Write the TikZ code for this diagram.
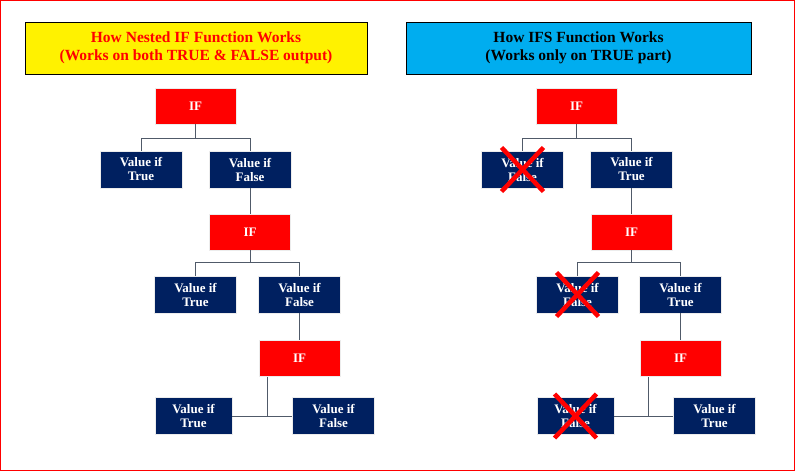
\documentclass[tikz,border=0pt]{standalone}
\usepackage{fontspec}
\setmainfont{Liberation Serif}
\begin{document}
\begin{tikzpicture}[x=1pt,y=-1pt,
  ifbox/.style={draw=white!85!gray,line width=0.6pt,fill=red,text=white,font=\bfseries\fontsize{13}{14}\selectfont,minimum width=81pt,minimum height=36pt},
  valbox/.style={draw=white!85!gray,line width=0.6pt,fill={rgb,255:red,0;green,32;blue,96},text=white,font=\bfseries\fontsize{13}{14}\selectfont,align=center,minimum width=82pt,minimum height=37pt,inner sep=1pt},
  conn/.style={draw={rgb,255:red,80;green,90;blue,105},line width=1pt},
  xmark/.style={draw=red,line width=4.5pt},
  title/.style={draw=black,line width=0.8pt,font=\bfseries\fontsize{15.5}{18}\selectfont,align=center,minimum height=52pt}]
\draw[red,line width=1pt] (0.5,0.5) rectangle (794.5,470.5);
\useasboundingbox (0,0) rectangle (795,471);
\node[title,fill=yellow,text=red,minimum width=342pt] (t1) at (196,48) {How Nested IF Function Works\\(Works on both TRUE \& FALSE output)};
\node[title,fill=cyan,text=black,minimum width=345pt] (t2) at (578.5,48) {How IFS Function Works\\(Works only on TRUE part)};
% left
\node[ifbox] (a1) at (195.5,106) {IF};
\node[valbox] (a1t) at (141,169.5) {Value if\\True};
\node[valbox] (a1f) at (250,169.5) {Value if\\False};
\node[ifbox] (a2) at (250,232) {IF};
\node[valbox] (a2t) at (195.5,294.5) {Value if\\True};
\node[valbox] (a2f) at (299.5,294.5) {Value if\\False};
\node[ifbox] (a3) at (299.5,358.5) {IF};
\node[valbox,minimum width=77pt] (a3t) at (193.5,416) {Value if\\True};
\node[valbox] (a3f) at (333.5,416) {Value if\\False};
\draw[conn] (a1.south) -- ++(0,14) -| (a1t.north);
\draw[conn] (a1.south) ++(0,14) -| (a1f.north);
\draw[conn] (a1f.south) -- (a2.north);
\draw[conn] (a2.south) -- ++(0,12) -| (a2t.north);
\draw[conn] (a2.south) ++(0,12) -| (a2f.north);
\draw[conn] (a2f.south) -- (a3.north);
\coordinate (a3j) at ([xshift=-32pt]a3.south);
\draw[conn] (a3j) -- (a3j |- a3t.east);
\draw[conn] (a3t.east) -- (a3f.west);
% right
\node[ifbox] (b1) at (576.5,106) {IF};
\node[valbox] (b1f) at (522.5,169.5) {Value if\\False};
\node[valbox] (b1t) at (631.5,169.5) {Value if\\True};
\node[ifbox] (b2) at (631.5,232) {IF};
\node[valbox] (b2f) at (577.5,294.5) {Value if\\False};
\node[valbox] (b2t) at (680.5,294.5) {Value if\\True};
\node[ifbox] (b3) at (680.5,358.5) {IF};
\node[valbox,minimum width=77pt] (b3f) at (575.5,416) {Value if\\False};
\node[valbox] (b3t) at (714.5,416) {Value if\\True};
\draw[conn] (b1.south) -- ++(0,14) -| (b1f.north);
\draw[conn] (b1.south) ++(0,14) -| (b1t.north);
\draw[conn] (b1t.south) -- (b2.north);
\draw[conn] (b2.south) -- ++(0,12) -| (b2f.north);
\draw[conn] (b2.south) ++(0,12) -| (b2t.north);
\draw[conn] (b2t.south) -- (b3.north);
\coordinate (b3j) at ([xshift=-32pt]b3.south);
\draw[conn] (b3j) -- (b3j |- b3t.west);
\draw[conn] (b3f.east) -- (b3t.west);
\foreach \n in {b1f,b2f,b3f}{
  \draw[xmark] ([shift={(-21,-22)}]\n.center) -- ([shift={(21,22)}]\n.center);
  \draw[xmark] ([shift={(-21,22)}]\n.center) -- ([shift={(21,-22)}]\n.center);
}
\end{tikzpicture}
\end{document}
